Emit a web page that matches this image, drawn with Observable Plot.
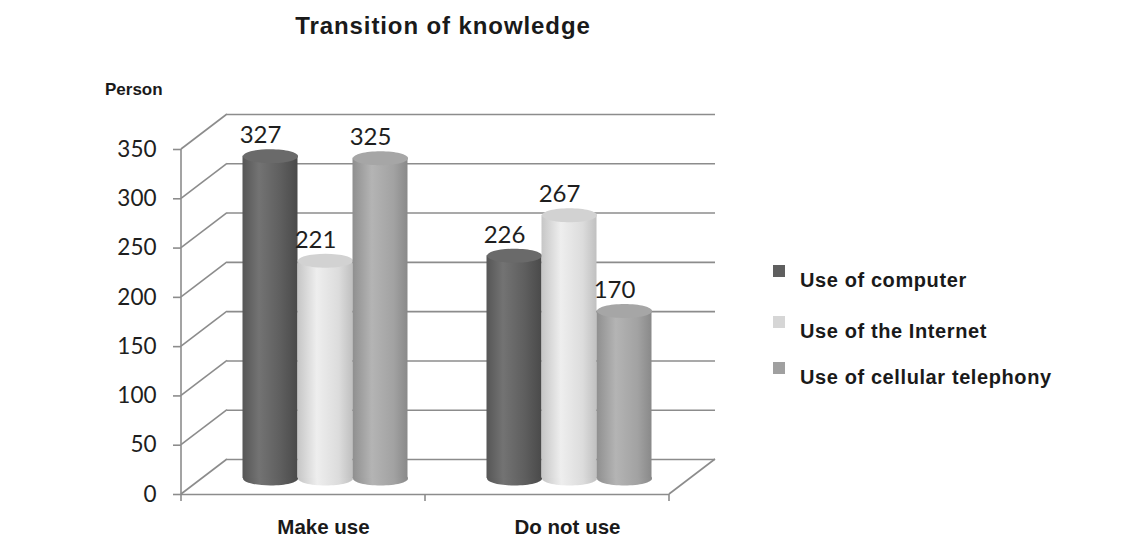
<!DOCTYPE html>
<html>
<head>
<meta charset="utf-8">
<script src="https://cdn.jsdelivr.net/npm/d3@7"></script>
<script src="https://cdn.jsdelivr.net/npm/@observablehq/plot@0.6"></script>
<style>
  body { margin: 0; background: #fff; }
  #wrap { position: relative; width: 1145px; height: 543px; overflow: hidden; font-family: "Liberation Sans", Arial, sans-serif; color: #1a1a1a; }
  #chart { position: absolute; left: 0; top: 0; }
  #title { position: absolute; left: 0; width: 886px; top: 12px; text-align: center; font-weight: bold; font-size: 24px; letter-spacing: 0.9px; }
  #person { position: absolute; left: 105px; top: 80px; font-weight: bold; font-size: 17px; }
  .legend-item { position: absolute; left: 773px; height: 24px; }
  .legend-item .sw { position: absolute; left: 0; top: 0; width: 12px; height: 12px; }
  .legend-item .lb { position: absolute; left: 27px; top: 4px; white-space: nowrap; font-weight: bold; font-size: 20px; letter-spacing: 0.6px; }
</style>
</head>
<body>
<div id="wrap">
  <div id="chart"></div>
  <div id="title">Transition of knowledge</div>
  <div id="person">Person</div>
</div>
<script>
// ---- data ----
const categories = ["Make use", "Do not use"];
const seriesNames = ["Use of computer", "Use of the Internet", "Use of cellular telephony"];
const computerValues = [327, 226];
const internetValues = [221, 267];
const cellularValues = [325, 170];
const yTicks = [0, 50, 100, 150, 200, 250, 300, 350];

// ---- styling ----
const valuesBySeries = [computerValues, internetValues, cellularValues];
const bodyFill = ["url(#gComputer)", "url(#gInternet)", "url(#gCellular)"];
const topFill = ["#6a6a6a", "#d2d2d2", "#a6a6a6"];
const swatchColor = ["#5f5f5f", "#d6d6d6", "#a0a0a0"];
const gridColor = "#8c8c8c";
const DEPTH_X = 46, DEPTH_Y = -35;
const BAR_W = 55, LIFT = -16;
const offsets = [-33, 22, 77];
const W = 760, H = 543, ML = 181, MR = 91, MT = 149, MB = 49;
const bandW = (W - ML - MR) / categories.length;
const inset = (bandW - BAR_W) / 2;

const rows = seriesNames.flatMap((s, i) =>
  categories.map((c, j) => ({category: c, series: s, value: valuesBySeries[i][j]})));

const ellipse = {
  draw(ctx) {
    const a = BAR_W / 2, b = 7, k = 0.5523;
    ctx.moveTo(a, 0);
    ctx.bezierCurveTo(a, k * b, k * a, b, 0, b);
    ctx.bezierCurveTo(-k * a, b, -a, k * b, -a, 0);
    ctx.bezierCurveTo(-a, -k * b, -k * a, -b, 0, -b);
    ctx.bezierCurveTo(k * a, -b, a, -k * b, a, 0);
    ctx.closePath();
  }
};

const frame3d = (index, scales, values, dims) => {
  const g = d3.create("svg:g").attr("stroke", gridColor).attr("stroke-width", 1.6).attr("fill", "none");
  const x0 = dims.marginLeft, x1 = dims.width - dims.marginRight;
  const y = scales.y;
  for (const t of yTicks) {
    g.append("line").attr("x1", x0).attr("y1", y(t)).attr("x2", x0 + DEPTH_X).attr("y2", y(t) + DEPTH_Y);
  }
  g.append("line").attr("x1", x1).attr("y1", y(0)).attr("x2", x1 + DEPTH_X).attr("y2", y(0) + DEPTH_Y);
  g.append("line").attr("x1", x0).attr("x2", x0).attr("y1", y(yTicks[yTicks.length - 1])).attr("y2", y(0) + 7);
  const bw = scales.x.bandwidth();
  const bounds = categories.map(c => scales.x(c) + bw);
  for (const bx of bounds) {
    g.append("line").attr("x1", bx).attr("x2", bx).attr("y1", y(0)).attr("y2", y(0) + 7);
  }
  return g.node();
};

const seriesMarks = seriesNames.flatMap((s, i) => {
  const data = rows.filter(d => d.series === s);
  return [
    Plot.dot(data, {x: "category", y: d => 0, symbol: ellipse, fill: bodyFill[i], dx: offsets[i], dy: LIFT}),
    Plot.barY(data, {x: "category", y: "value", fill: bodyFill[i], insetLeft: inset, insetRight: inset, dx: offsets[i], dy: LIFT}),
    Plot.dot(data, {x: "category", y: "value", symbol: ellipse, fill: topFill[i], dx: offsets[i], dy: LIFT}),
    Plot.text(data, {x: "category", y: "value", text: d => String(d.value), dx: offsets[i] - 10, dy: LIFT - 13, lineAnchor: "bottom", fontSize: 24, fill: "#1e1e1e", fontFamily: "Lato"})
  ];
});

const chart = Plot.plot({
  width: W, height: H,
  marginLeft: ML, marginRight: MR, marginTop: MT, marginBottom: MB,
  x: {domain: categories, padding: 0},
  y: {domain: [0, 350]},
  style: {fontFamily: "Lato", fontSize: "22px", color: "#1e1e1e", background: "transparent"},
  marks: [
    Plot.ruleY(yTicks, {dx: DEPTH_X, dy: DEPTH_Y, stroke: gridColor, strokeWidth: 1.6}),
    Plot.ruleY([0], {stroke: gridColor, strokeWidth: 1.6}),
    frame3d,
    Plot.axisY(yTicks, {tickSize: 8, tickPadding: 17, stroke: gridColor, strokeWidth: 1.6, fill: "#1e1e1e", fontSize: 22.5, label: null}),
    Plot.axisX({tickSize: 0, tickPadding: 25, dx: 20, fill: "#1a1a1a", fontSize: 20.5, fontWeight: "bold", fontFamily: "Liberation Sans", label: null}),
    ...seriesMarks
  ]
});

const defs = d3.select(chart).insert("defs", ":first-child");
function grad(id, stops) {
  const lg = defs.append("linearGradient").attr("id", id).attr("x1", "0").attr("x2", "1").attr("y1", "0").attr("y2", "0");
  for (const [o, c] of stops) lg.append("stop").attr("offset", o).attr("stop-color", c);
}
grad("gComputer", [[0, "#565656"], [0.3, "#737373"], [0.7, "#5e5e5e"], [1, "#4a4a4a"]]);
grad("gInternet", [[0, "#c6c6c6"], [0.35, "#eeeeee"], [0.75, "#dcdcdc"], [1, "#c0c0c0"]]);
grad("gCellular", [[0, "#8f8f8f"], [0.35, "#b4b4b4"], [0.75, "#a2a2a2"], [1, "#898989"]]);

document.getElementById("chart").appendChild(chart);

// legend
const legendTops = [265, 316, 362];
const wrap = document.getElementById("wrap");
seriesNames.forEach((s, i) => {
  const item = document.createElement("div");
  item.className = "legend-item";
  item.style.top = legendTops[i] + "px";
  item.innerHTML = `<div class="sw" style="background:${swatchColor[i]}"></div><div class="lb">${s}</div>`;
  wrap.appendChild(item);
});
</script>
</body>
</html>
